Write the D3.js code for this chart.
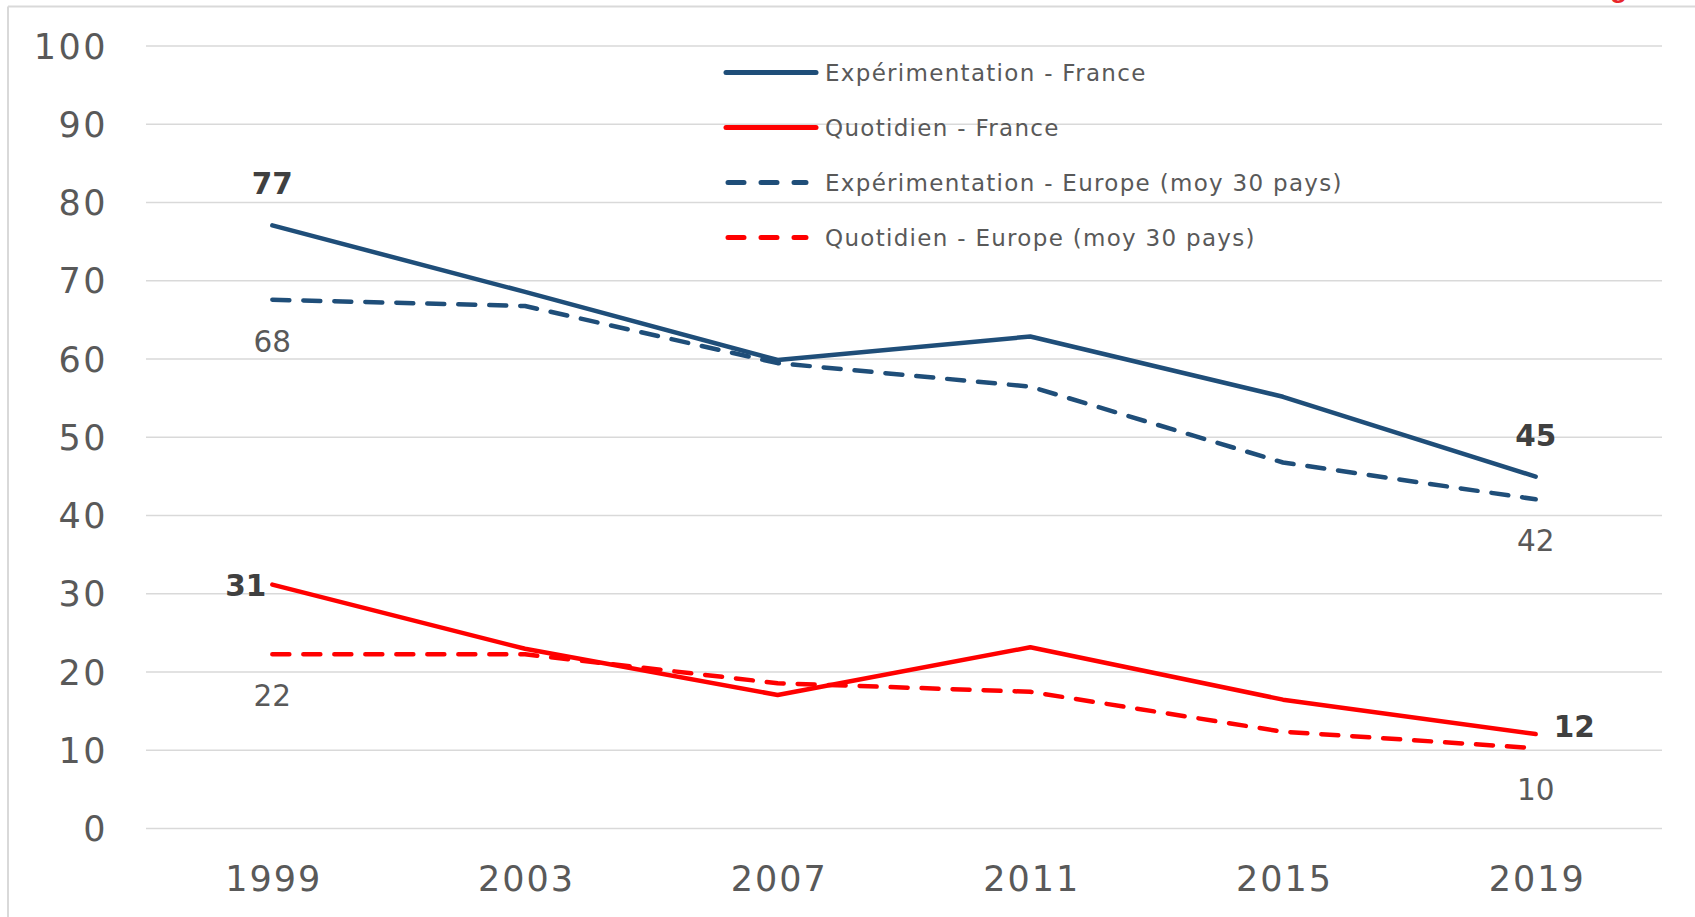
<!DOCTYPE html>
<html><head><meta charset="utf-8">
<script src="https://cdn.jsdelivr.net/npm/d3@7"></script>
<style>body{margin:0;background:#fff}svg{display:block}</style>
</head><body><svg id="c" width="1695" height="917"></svg>
<script>
const years = ["1999","2003","2007","2011","2015","2019"];
const yTicks = [0,10,20,30,40,50,60,70,80,90,100];
const expFrance = [77, 68.5, 59.8, 62.8, 55.1, 44.9];
const quotFrance = [31.1, 22.9, 17.0, 23.1, 16.4, 12.0];
const expEurope = [67.5, 66.7, 59.4, 56.4, 46.7, 42.0];
const quotEurope = [22.2, 22.2, 18.5, 17.4, 12.3, 10.2];
const seriesNames = ["Expérimentation - France","Quotidien - France","Expérimentation - Europe (moy 30 pays)","Quotidien - Europe (moy 30 pays)"];
const labels = [
  {s:0,i:0,text:"77",bold:true,pos:"above"},
  {s:2,i:0,text:"68",bold:false,pos:"below"},
  {s:1,i:0,text:"31",bold:true,pos:"left"},
  {s:3,i:0,text:"22",bold:false,pos:"below"},
  {s:0,i:5,text:"45",bold:true,pos:"above"},
  {s:2,i:5,text:"42",bold:false,pos:"below"},
  {s:1,i:5,text:"12",bold:true,pos:"right"},
  {s:3,i:5,text:"10",bold:false,pos:"below"}
];

const NAVY="#1f4e79", RED="#ff0000";
const series = [
  {name:seriesNames[0], values:expFrance, color:NAVY, dash:null},
  {name:seriesNames[1], values:quotFrance, color:RED, dash:null},
  {name:seriesNames[2], values:expEurope, color:NAVY, dash:"17,14"},
  {name:seriesNames[3], values:quotEurope, color:RED, dash:"17,14"}
];

const svg = d3.select("#c");
const L=146, R=1662, T=45.4, B=828;
const x = d3.scalePoint().domain(years).range([L,R]).padding(0.5);
const y = d3.scaleLinear().domain([0,100]).range([B,T]);

// frame
svg.append("line").attr("x1",8).attr("x2",1695).attr("y1",6.5).attr("y2",6.5).attr("stroke","#d9d9d9").attr("stroke-width",2);
svg.append("line").attr("x1",8).attr("x2",8).attr("y1",6.5).attr("y2",917).attr("stroke","#d9d9d9").attr("stroke-width",2);
svg.append("text").attr("x",1627).attr("y",-3).attr("text-anchor","end").attr("font-family","Liberation Sans, Arial").attr("font-weight","bold").attr("font-size",28).attr("fill","#e8262b").text("g");

// gridlines
const yAxis = d3.axisLeft(y).tickValues(yTicks).tickSize(-(R-L)).tickPadding(38);
const gy = svg.append("g").attr("transform",`translate(${L},0)`).call(yAxis);
gy.select(".domain").remove();
gy.selectAll(".tick line").attr("stroke","#d9d9d9").attr("stroke-width",1.5);
gy.selectAll(".tick text").attr("font-family","DejaVu Sans").attr("font-size",35).attr("letter-spacing","2.5px").attr("fill","#595959").attr("dy","0.36em");

const xAxis = d3.axisBottom(x).tickSize(0).tickPadding(38);
const gx = svg.append("g").attr("transform",`translate(0,${B})`).call(xAxis);
gx.select(".domain").remove();
gx.selectAll(".tick text").attr("font-family","DejaVu Sans").attr("font-size",35).attr("letter-spacing","2px").attr("dx","1px").attr("fill","#595959");

const line = d3.line().x((d,i)=>x(years[i])).y(d=>y(d));
[2,3,0,1].forEach(k=>{
  const s=series[k];
  svg.append("path").attr("d",line(s.values)).attr("fill","none").attr("stroke",s.color)
    .attr("stroke-width",4.5).attr("stroke-linecap","round").attr("stroke-linejoin","round")
    .attr("stroke-dasharray",s.dash);
});

// data labels
labels.forEach(l=>{
  const s=series[l.s];
  const px=x(years[l.i]), py=y(s.values[l.i]);
  let tx=px, ty=py, anchor="middle";
  if(l.pos==="above"){ty=py-31;}
  else if(l.pos==="below"){ty=py+52;}
  else if(l.pos==="left"){tx=px-6;ty=py+11;anchor="end";}
  else if(l.pos==="right"){tx=px+18;ty=py+3;anchor="start";}
  svg.append("text").attr("x",tx).attr("y",ty).attr("text-anchor",anchor)
    .attr("font-family","DejaVu Sans").attr("font-size",29.5)
    .attr("font-weight",l.bold?"bold":"normal")
    .attr("fill",l.bold?"#404040":"#595959").text(l.text);
});

// legend
const legY=[72.5,127.5,182.5,237.5];
series.forEach((s,k)=>{
  const g=svg.append("g").attr("transform",`translate(0,${legY[k]})`);
  g.append("line").attr("x1",s.dash?728:726).attr("x2",s.dash?806:816).attr("y1",0).attr("y2",0)
    .attr("stroke",s.color).attr("stroke-width",5).attr("stroke-linecap","round")
    .attr("stroke-dasharray",s.dash?"16,17":null);
  g.append("text").attr("x",825).attr("y",0).attr("dy","0.35em")
    .attr("font-family","DejaVu Sans").attr("font-size",23).attr("letter-spacing","1.3px").attr("fill","#595959").text(s.name);
});
</script></body></html>
